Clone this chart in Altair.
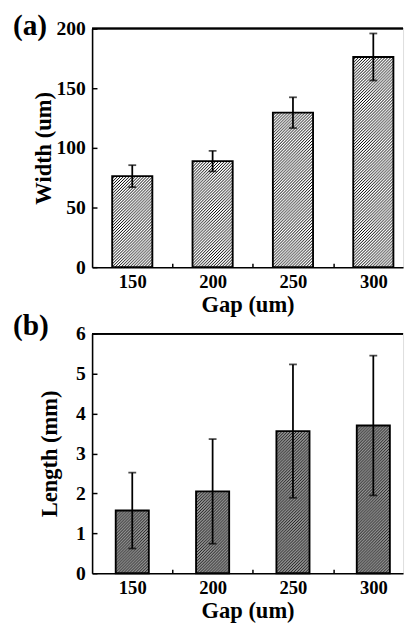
import base64
import altair as alt
import pandas as pd

# ---------------- data ----------------
gaps = [150, 200, 250, 300]
gap_ticks = [150, 175, 200, 225, 250, 275, 300]

width_um = [76.3, 88.9, 129.5, 176.2]
width_err = [9.2, 8.6, 12.9, 19.7]

length_mm = [1.57, 2.05, 3.56, 3.70]
length_err = [0.95, 1.31, 1.67, 1.75]

width_ticks = [0, 25, 50, 75, 100, 125, 150, 175, 200]
length_ticks = [0, 0.5, 1, 1.5, 2, 2.5, 3, 3.5, 4, 4.5, 5, 5.5, 6]

panel_labels = ["(a)", "(b)"]

# ---------------- styling ----------------
FONT = "Liberation Serif"
X_DOMAIN = [125, 318.5]
PLOT_W = 318
PLOT_H_A = 244
PLOT_H_B = 245
HALF_A = 12.5   # half bar width in gap units
HALF_B = 10.3


def hatch_uri(bg, fg, sw):
    svg = (
        '<svg xmlns="http://www.w3.org/2000/svg">'
        '<defs><pattern id="p" width="3" height="3" patternUnits="userSpaceOnUse">'
        f'<rect width="3" height="3" fill="{bg}"/>'
        '<path d="M-0.75,0.75 L0.75,-0.75 M0,3 L3,0 M2.25,3.75 L3.75,2.25" '
        f'stroke="{fg}" stroke-width="{sw}"/>'
        '</pattern></defs>'
        '<rect width="100%" height="100%" fill="url(#p)"/></svg>'
    )
    return "data:image/svg+xml;base64," + base64.b64encode(svg.encode()).decode()


HATCH_A = hatch_uri("#ffffff", "#000000", 1.0)
HATCH_B = hatch_uri("#c8c8c8", "#1a1a1a", 1.2)


def panel(values, errs, half, ymax, yticks, ytitle, ytitle_pad, height, label, label_y, hatch):
    df = pd.DataFrame({"gap": gaps, "value": values, "err": errs})
    base = alt.Chart(df).transform_calculate(
        x0=f"datum.gap - {half}",
        x1=f"datum.gap + {half}",
        lo="datum.value - datum.err",
        hi="datum.value + datum.err",
        zero="0",
    )
    xscale = alt.Scale(domain=X_DOMAIN, nice=False, zero=False)
    yscale = alt.Scale(domain=[0, ymax], nice=False)
    xaxis = alt.Axis(
        values=gap_ticks,
        labelExpr="datum.value % 50 === 0 ? datum.label : ''",
        format="d",
        ticks=False,
        grid=True,
        gridColor="black",
        gridWidth=1.5,
        gridDash=[0, height - 4, 4, 3000],
        gridOpacity=1,
        domainColor="black",
        domainWidth=1.6,
        labelFont=FONT,
        labelFontSize=19,
        labelFontWeight="bold",
        labelColor="black",
        labelPadding=6,
        title="Gap (um)",
        titleFont=FONT,
        titleFontSize=23,
        titleFontWeight="bold",
        titleColor="black",
        titlePadding=2,
    )
    yaxis = alt.Axis(
        values=yticks,
        labelExpr=f"datum.value % {yticks[2]} === 0 ? datum.label : ''",
        ticks=False,
        grid=True,
        gridColor="black",
        gridWidth=1.5,
        gridDash={"condition": {"test": f"datum.value % {yticks[2]} === 0", "value": [5, 3000]},
                  "value": [3, 3000]},
        gridOpacity=1,
        domainColor="black",
        domainWidth=1.6,
        labelFont=FONT,
        labelFontSize=20,
        labelFontWeight="bold",
        labelColor="black",
        labelPadding=7,
        title=ytitle,
        titleFont=FONT,
        titleFontSize=23,
        titleFontWeight="bold",
        titleColor="black",
        titlePadding=ytitle_pad,
    )

    frame = base.mark_rule(color="black", strokeWidth=1.5).encode(
        x=alt.X("gap:Q", scale=xscale, axis=xaxis),
        y=alt.Y("value:Q", scale=yscale, axis=yaxis),
        opacity=alt.value(0),
    )
    top = base.mark_rule(color="black", strokeWidth=1.6).encode(y=alt.datum(ymax))
    fill = base.mark_image(aspect=False).encode(
        x="x0:Q", x2="x1:Q", y="value:Q", y2="zero:Q", url=alt.value(hatch)
    )
    outline = base.mark_rect(fill="transparent", stroke="black", strokeWidth=1.9).encode(
        x="x0:Q", x2="x1:Q", y="value:Q", y2="zero:Q"
    )
    err = base.mark_rule(color="black", strokeWidth=1.8).encode(
        x="gap:Q", y="lo:Q", y2="hi:Q"
    )
    cap_lo = base.mark_tick(color="black", orient="horizontal", size=8, thickness=1.8).encode(
        x="gap:Q", y="lo:Q"
    )
    cap_hi = base.mark_tick(color="black", orient="horizontal", size=8, thickness=1.8).encode(
        x="gap:Q", y="hi:Q"
    )
    tag = alt.Chart(pd.DataFrame({"t": [label]})).mark_text(
        align="left", baseline="alphabetic", font=FONT, fontSize=30,
        fontWeight="bold", color="black",
    ).encode(x=alt.value(-81), y=alt.value(label_y), text="t:N")
    return alt.layer(frame, fill, outline, err, cap_lo, cap_hi, top, tag).properties(
        width=PLOT_W,
        height=height,
    )


pa = panel(width_um, width_err, HALF_A, 200, width_ticks, "Width (um)", 1, PLOT_H_A,
           panel_labels[0], 7, HATCH_A)
pb = panel(length_mm, length_err, HALF_B, 6, length_ticks, "Length (mm)", 14, PLOT_H_B,
           panel_labels[1], 1, HATCH_B)

chart = (
    alt.vconcat(pa, pb, spacing=-7)
    .properties(padding={"left": 4, "top": -4, "right": 0, "bottom": 0})
    .configure_view(strokeWidth=0)
    .configure(background="white")
)

chart.save("out.html", embed_options={"renderer": "svg", "actions": False})
